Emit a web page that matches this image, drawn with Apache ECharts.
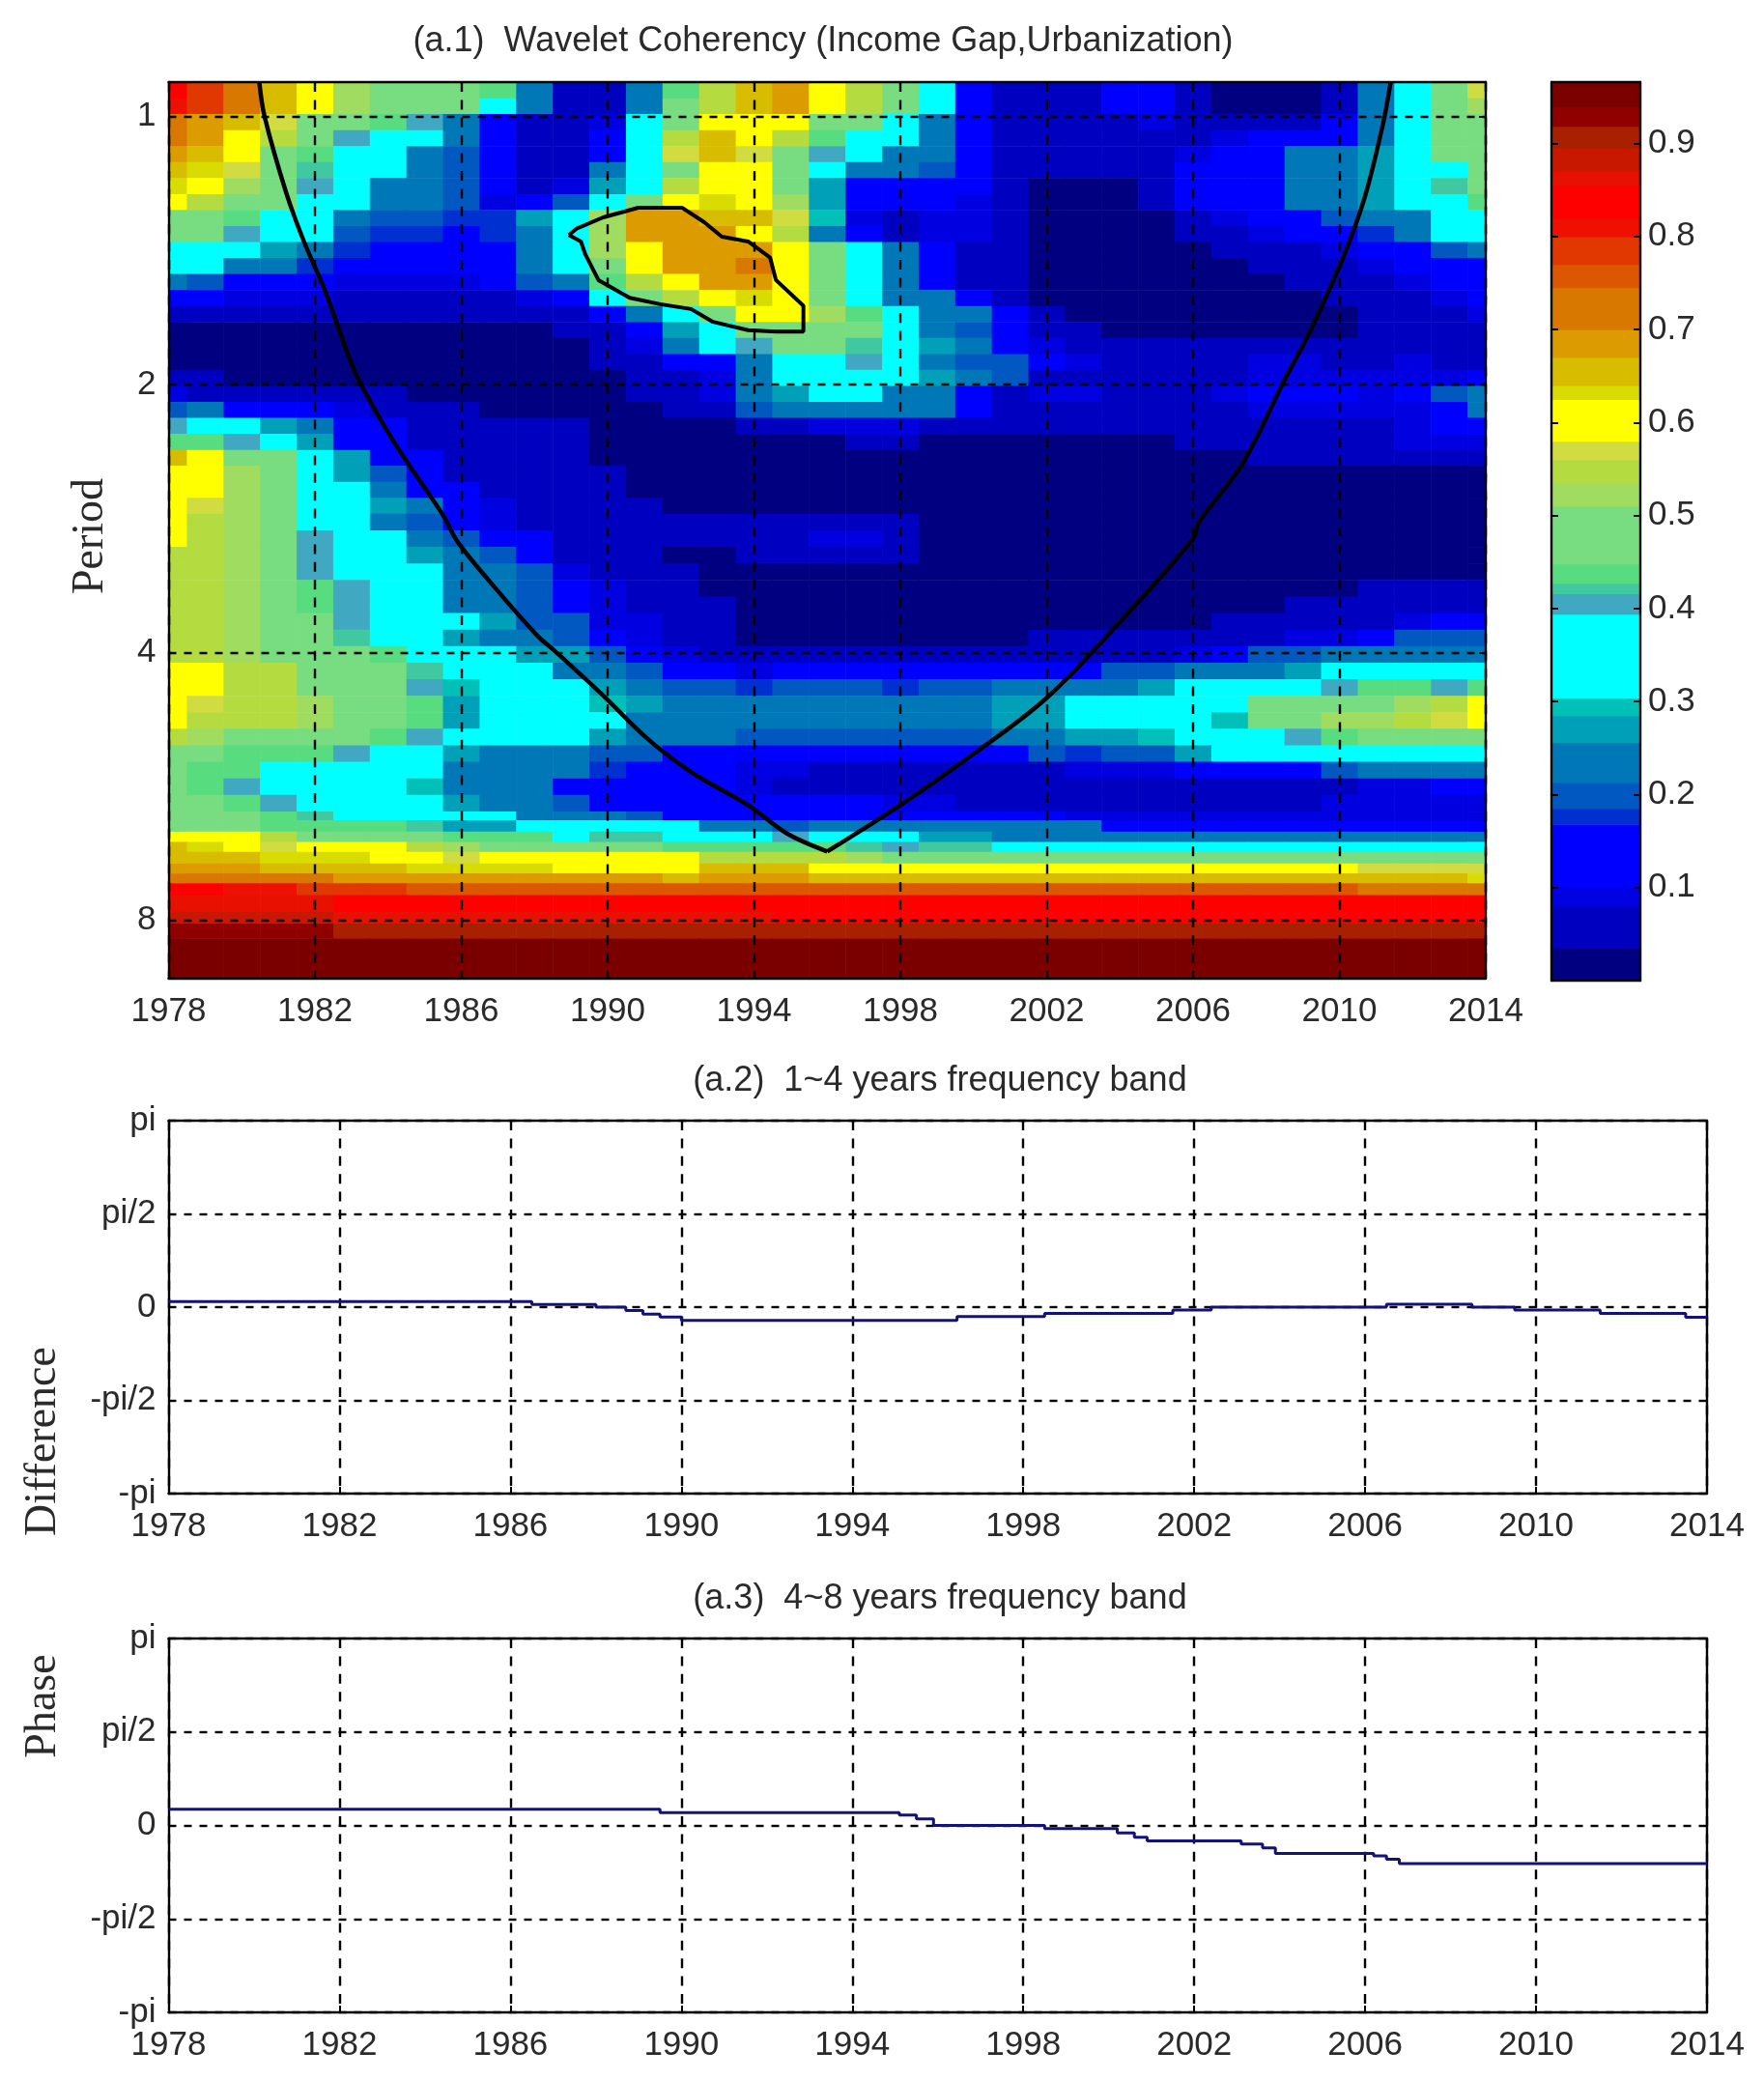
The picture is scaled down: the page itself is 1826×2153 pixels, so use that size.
<!DOCTYPE html>
<html>
<head>
<meta charset="utf-8">
<title>Wavelet Coherency</title>
<style>html,body{margin:0;padding:0;background:#fff}#chart{width:1826px;height:2153px}</style>
<script src="https://cdn.jsdelivr.net/npm/echarts@6/dist/echarts.min.js"></script>
</head>
<body>
<div id="chart"></div>
<script>
// ---------- tick labels ----------
const yearTicks = [1978, 1982, 1986, 1990, 1994, 1998, 2002, 2006, 2010, 2014];
const periodTicks = [1, 2, 4, 8];
const coherenceTicks = [0.1, 0.2, 0.3, 0.4, 0.5, 0.6, 0.7, 0.8, 0.9];
const phaseTicks = [-Math.PI, -Math.PI / 2, 0, Math.PI / 2, Math.PI];
const phaseTickLabels = ['-pi', '-pi/2', '0', 'pi/2', 'pi'];

// ---------- heat map categories ----------
const years = [1978,1979,1980,1981,1982,1983,1984,1985,1986,1987,1988,1989,1990,1991,1992,1993,1994,1995,1996,1997,1998,1999,2000,2001,2002,2003,2004,2005,2006,2007,2008,2009,2010,2011,2012,2013,2014];
// Row boundaries on the period scale, as log2(period), top to bottom
const log2PeriodEdges = [-0.129,-0.069,-0.010,0.050,0.110,0.169,0.229,0.289,0.348,0.408,0.468,0.527,0.587,0.647,0.707,0.766,0.826,0.886,0.945,1.005,1.065,1.124,1.184,1.244,1.303,1.363,1.423,1.482,1.544,1.606,1.668,1.729,1.791,1.853,1.915,1.976,2.038,2.100,2.162,2.223,2.285,2.347,2.408,2.470,2.532,2.594,2.626,2.669,2.707,2.744,2.788,2.825,2.862,2.906,2.968,3.012,3.067,3.217];

// Coherency in hundredths, one row per period band, one column per year
const coherencyRows = [
[84,79,72,66,60,53,50,48,46,44,24,5,5,22,44,54,66,68,60,56,48,36,15,6,5,8,12,12,5,3,3,3,4,24,35,46,58],
[82,79,72,66,60,52,50,47,46,38,22,5,6,22,46,54,66,68,60,56,50,37,16,6,5,8,13,12,5,3,3,3,4,24,35,46,52],
[74,69,65,57,50,46,44,40,24,12,8,5,10,34,46,62,60,60,50,46,38,24,15,6,5,6,8,10,6,5,6,8,11,24,34,46,48],
[72,68,60,54,46,40,36,35,22,12,8,6,12,34,54,66,60,54,44,35,35,22,15,6,4,5,6,8,8,10,13,13,15,24,34,46,47],
[70,66,60,50,44,37,35,24,21,12,8,8,14,35,58,66,58,50,40,35,24,23,15,5,4,4,4,6,10,13,13,22,22,26,34,46,47],
[66,64,57,50,42,36,34,22,20,12,8,8,22,35,50,60,60,48,36,24,22,20,14,5,4,4,4,5,12,14,14,23,23,26,34,36,47],
[64,60,52,48,40,36,24,22,19,11,8,10,26,34,56,62,60,46,28,14,13,13,12,5,3,3,3,5,12,15,15,22,23,27,34,42,46],
[60,56,50,46,38,36,24,22,19,10,14,20,33,46,60,64,62,52,26,13,11,12,10,5,3,3,3,4,11,14,14,22,23,27,34,36,44],
[50,48,44,36,36,22,20,20,17,18,26,33,52,68,69,66,66,58,30,10,8,10,10,5,3,3,2,3,6,10,12,14,20,22,22,36,38],
[47,46,40,35,34,20,18,18,16,17,25,35,52,69,69,68,62,56,24,12,8,9,9,5,3,3,2,3,4,8,10,12,13,18,22,36,38],
[38,37,36,26,24,18,15,15,15,15,25,35,52,60,69,70,70,60,48,36,22,12,8,5,3,2,2,2,3,5,6,8,10,14,15,19,25],
[36,35,24,22,18,13,12,12,12,14,24,35,48,60,69,70,72,60,48,35,22,12,8,5,3,2,2,2,2,3,4,6,8,10,12,14,15],
[22,20,15,12,12,10,10,10,10,12,20,25,44,56,60,70,70,62,48,34,22,14,8,5,3,2,2,2,2,2,3,4,6,8,10,12,13],
[14,13,10,9,9,6,6,6,6,8,10,14,36,46,54,62,64,60,50,34,24,22,14,8,3,2,2,2,2,2,2,3,4,6,8,10,12],
[8,7,6,5,4,4,4,4,4,4,5,8,13,24,34,46,60,60,52,44,34,24,22,12,6,3,2,2,2,2,2,2,3,4,6,8,9],
[3,3,3,3,3,3,3,3,3,3,3,4,6,11,27,36,46,50,50,46,34,22,20,12,8,5,3,2,2,2,2,3,3,4,5,5,6],
[2,2,2,2,2,2,2,2,2,2,2,3,5,10,24,35,40,46,50,42,36,28,22,12,9,6,5,5,5,5,5,6,6,6,6,7,7],
[2,2,2,2,2,2,2,2,2,2,2,3,4,8,13,14,24,34,36,40,36,24,20,20,14,10,8,8,8,8,9,9,8,8,9,8,8],
[5,5,3,3,3,2,2,2,2,2,2,2,3,5,8,10,24,34,34,35,36,28,22,19,8,8,7,8,8,8,9,9,9,9,10,10,12],
[9,8,6,6,5,5,4,3,3,2,2,2,3,4,7,9,23,26,36,36,24,22,15,8,9,9,7,8,8,10,11,12,12,10,13,19,22],
[20,22,12,12,12,10,8,6,4,3,2,2,2,3,4,7,20,22,24,24,22,22,12,8,6,6,5,5,6,8,9,9,9,9,10,15,22],
[40,37,36,28,22,13,12,8,6,6,5,4,3,3,3,3,5,8,9,10,9,8,6,5,5,5,5,5,5,6,6,6,7,8,9,12,13],
[44,44,40,37,26,14,13,8,6,6,5,4,3,3,3,3,3,3,3,4,4,3,3,3,3,3,3,3,4,5,6,6,7,8,9,9,9],
[65,60,50,46,35,26,16,13,6,6,5,5,3,3,3,2,2,2,2,2,2,2,2,2,2,2,2,2,2,3,4,5,6,6,7,7,7],
[60,60,52,47,36,26,20,14,8,6,5,5,4,3,3,2,2,2,2,2,2,2,2,2,2,2,2,2,2,2,2,3,3,3,3,3,3],
[60,60,52,46,36,36,22,15,12,8,6,5,4,3,3,2,2,2,2,2,2,2,2,2,2,2,2,2,2,2,2,2,2,2,2,2,2],
[60,58,52,46,38,36,27,22,15,10,6,5,4,4,3,2,2,2,2,2,2,2,2,2,2,2,2,2,2,2,2,2,2,2,2,2,2],
[60,55,52,50,36,35,25,20,14,10,6,5,5,5,5,6,8,8,8,8,6,3,2,2,2,2,2,2,2,2,2,2,2,2,2,2,2],
[60,54,52,50,41,35,36,25,20,15,12,6,5,4,4,5,7,8,9,9,7,3,2,2,2,2,2,2,2,2,2,2,2,2,2,2,2],
[56,54,52,50,41,35,36,27,22,19,15,8,6,5,3,3,5,7,6,6,6,2,2,2,2,2,2,2,2,2,2,2,2,2,2,2,2],
[56,54,52,50,40,38,36,35,24,22,19,10,8,6,5,3,2,3,3,3,3,2,2,2,2,2,2,2,2,2,2,2,2,2,2,2,2],
[56,54,52,50,44,40,36,35,24,22,20,12,9,7,6,3,2,2,2,2,2,2,2,2,2,2,2,2,2,2,2,2,3,4,4,5,6],
[55,54,52,50,44,40,36,35,22,22,20,13,10,8,6,4,2,2,2,2,2,2,2,2,2,2,2,2,2,2,2,4,5,6,7,8,8],
[55,54,52,50,46,40,36,35,34,26,21,19,10,9,7,5,3,2,2,2,2,2,2,2,2,2,2,2,2,5,6,7,8,8,9,13,14],
[55,54,52,50,46,42,36,36,28,24,22,19,12,10,8,5,3,3,3,3,3,3,3,3,5,5,5,5,6,7,8,9,10,12,19,19,20],
[56,55,52,50,46,46,44,36,36,36,28,26,20,12,10,8,6,8,7,7,7,7,7,7,7,7,8,8,9,12,19,19,22,24,24,24,25],
[60,60,54,54,48,46,46,42,36,36,36,25,24,20,14,12,10,13,12,12,11,12,14,14,13,14,19,20,22,24,24,26,34,35,36,36,36],
[60,60,56,55,50,46,46,40,30,36,36,36,26,22,20,19,18,19,20,19,18,20,20,22,23,24,25,27,34,36,36,36,40,44,44,40,44],
[60,58,56,55,52,48,46,44,26,36,36,36,30,26,24,24,22,22,24,24,23,24,24,26,28,36,36,36,36,34,46,46,48,50,52,56,60],
[60,56,54,54,52,47,46,44,26,36,36,36,36,24,24,24,22,22,24,24,23,24,24,26,27,36,36,36,36,30,46,48,52,53,55,58,60],
[56,52,50,50,50,46,44,40,36,36,36,34,26,22,22,22,19,20,20,20,20,21,21,22,24,26,28,30,36,36,36,40,44,46,48,50,50],
[46,46,44,44,44,40,36,36,28,25,24,23,20,19,15,14,13,15,12,11,12,12,12,15,19,18,20,21,26,34,36,36,36,35,36,36,36],
[46,44,44,38,35,36,36,36,24,22,22,22,18,15,13,12,10,9,8,8,8,8,8,8,8,9,9,10,12,13,14,15,20,22,24,24,25],
[46,44,40,36,35,36,36,30,24,23,22,15,14,13,12,11,10,8,6,7,8,8,8,7,7,7,7,7,7,7,8,8,8,9,10,11,11],
[46,46,44,40,36,36,36,35,28,24,23,20,15,14,13,13,12,14,13,12,9,9,8,8,8,8,8,8,8,8,8,8,9,9,9,10,10],
[46,46,46,44,42,38,36,36,36,36,24,23,22,19,15,13,12,12,13,13,13,13,12,12,12,10,9,9,9,9,9,9,9,10,10,10,10],
[48,48,46,44,44,44,44,42,27,28,36,36,36,36,36,24,24,20,22,24,24,24,22,22,22,22,15,14,13,13,13,13,13,13,13,13,13],
[60,60,60,56,50,48,46,46,44,44,44,36,42,42,36,35,36,40,36,36,36,26,26,24,24,24,24,24,24,24,24,24,24,24,24,24,24],
[65,64,60,58,60,60,60,56,52,50,48,46,46,46,44,44,44,44,44,42,41,42,42,36,36,36,36,36,36,36,36,36,36,36,36,36,36],
[67,66,66,64,64,63,62,60,58,60,60,60,60,60,60,56,54,54,54,52,50,48,48,48,48,46,46,46,46,46,46,46,46,46,46,46,46],
[69,68,68,67,66,66,65,64,64,63,63,62,62,62,62,65,65,65,62,62,60,60,60,60,60,60,60,60,60,60,60,60,60,57,57,57,57],
[74,74,72,72,72,70,70,70,69,68,68,68,68,68,67,68,68,68,67,67,66,66,66,66,66,66,66,66,66,66,66,66,66,65,65,65,64],
[83,83,82,82,80,78,78,77,76,75,75,75,75,75,75,75,75,75,75,75,75,75,75,75,75,75,75,75,75,75,75,75,75,74,74,72,72],
[86,86,86,86,86,83,83,83,83,83,83,83,83,83,83,83,83,83,83,83,83,83,83,83,83,83,83,83,83,83,83,83,83,83,83,83,83],
[88,88,88,88,88,87,87,87,87,86,86,86,86,86,86,86,86,85,85,85,85,85,85,85,85,85,85,85,85,85,85,85,85,85,85,85,85],
[92,92,92,92,92,91,91,91,91,91,91,91,91,91,91,91,91,91,91,91,91,91,91,91,91,91,91,91,91,91,91,91,91,91,91,91,91],
[95,95,95,95,95,95,95,95,95,95,95,95,95,95,95,95,95,95,95,95,95,95,95,95,95,95,95,95,95,95,95,95,95,95,95,95,95]
];

// Colour map: [upper coherency limit, colour]
const colorStops = [
[0.035,'#000080'],[0.08,'#0000c0'],[0.10,'#0000e0'],[0.168,'#0000ff'],[0.185,'#0030d0'],[0.213,'#0058c0'],[0.256,'#0078b8'],[0.285,'#00a0b8'],[0.304,'#00c0b8'],[0.394,'#00ffff'],[0.416,'#40a8c0'],[0.427,'#40c8a0'],[0.448,'#58dc80'],[0.51,'#78dc80'],[0.535,'#a0dc60'],[0.56,'#b4dc40'],[0.58,'#d0dc40'],[0.625,'#ffff00'],[0.64,'#d8dc00'],[0.67,'#d8bc00'],[0.70,'#dc9c00'],[0.745,'#d87800'],[0.77,'#dc5800'],[0.80,'#e03800'],[0.82,'#ee1000'],[0.855,'#ff0000'],[0.87,'#e81000'],[0.895,'#c81800'],[0.918,'#a82000'],[0.94,'#900000'],[0.966,'#7a0000']
];

// Cone of influence, two branches meeting at the cusp: [year, log2(period)]
const coneLeftBranch = [[1980.48,-0.129],[1980.62,-0.003],[1981.22,0.286],[1981.7,0.466],[1982.3,0.658],[1982.9,0.887],[1983.26,1.0],[1984.2,1.223],[1985.5,1.487],[1985.9,1.587],[1986.87,1.75],[1988.07,1.936],[1988.6,2.0],[1989.87,2.16],[1991.08,2.321],[1992.28,2.446],[1993.84,2.57],[1994.9,2.676],[1996.0,2.743]];
const coneRightBranch = [[1996.0,2.743],[1998,2.57],[1999.96,2.383],[2001.98,2.172],[2004,1.886],[2006,1.575],[2006.17,1.512],[2007.35,1.295],[2008.5,0.983],[2009.2,0.80],[2010.1,0.526],[2010.7,0.297],[2011.2,0.021],[2011.4,-0.129]];

// Significance contour: [year, log2(period)]
const significanceContour = [[1988.94,0.442],[1989.15,0.418],[1989.88,0.376],[1990.84,0.340],[1992.04,0.340],[1992.64,0.394],[1993.12,0.448],[1993.84,0.466],[1994.44,0.526],[1994.6,0.61],[1995.35,0.706],[1995.35,0.802],[1994.6,0.802],[1993.84,0.797],[1992.88,0.766],[1992.28,0.718],[1991.44,0.700],[1990.6,0.676],[1989.75,0.610],[1989.39,0.514],[1989.27,0.466],[1988.94,0.442]];

// Phase difference, 1~4 years band: [year, radians], stepped
const phaseBand1to4 = [[1978,0.093],[1986.5,0.044],[1988,0],[1988.7,-0.055],[1989.1,-0.12],[1989.5,-0.165],[1990,-0.225],[1996.45,-0.158],[1998.5,-0.104],[2001.5,-0.05],[2002.4,0],[2006.5,0.05],[2008.5,0],[2009.5,-0.05],[2011.5,-0.104],[2013.5,-0.17],[2014,-0.17]];
// Phase difference, 4~8 years band: [year, radians], stepped
const phaseBand4to8 = [[1978,0.27],[1989.5,0.216],[1995.1,0.173],[1995.5,0.108],[1995.9,0],[1998.5,-0.054],[2000.2,-0.124],[2000.6,-0.2],[2000.9,-0.26],[2003.1,-0.313],[2003.6,-0.378],[2003.9,-0.47],[2006.2,-0.513],[2006.5,-0.568],[2006.8,-0.643],[2014,-0.643]];

// ---------- build ----------
const FONT = 'Liberation Sans';
const LABEL = '#2a2a2a';
const colorFor = v => {
  for (const s of colorStops) if (v <= s[0]) return s[1];
  return colorStops[colorStops.length - 1][1];
};
const heatData = [];
coherencyRows.forEach((row, r) => row.forEach((val, c) => {
  heatData.push([Math.max(years[0], years[c] - 0.5), Math.min(years[years.length - 1], years[c] + 0.5), log2PeriodEdges[r], log2PeriodEdges[r + 1], val / 100]);
}));
const barData = colorStops.map((s, i) => [0, 1, i ? colorStops[i - 1][0] : 0, s[0], s[0]]);

const rectRender = (params, api) => {
  const a = api.coord([api.value(0), api.value(2)]);
  const b = api.coord([api.value(1), api.value(3)]);
  const x = Math.min(a[0], b[0]), y = Math.min(a[1], b[1]);
  return { type: 'rect', shape: { x, y, width: Math.abs(b[0] - a[0]) + 0.6, height: Math.abs(b[1] - a[1]) + 0.6 }, style: { fill: colorFor(api.value(4)) } };
};

const gridsPx = [
  { left: 174.5, top: 85, width: 1363.5, height: 927.8 },
  { left: 174.5, top: 1160, width: 1592.5, height: 386 },
  { left: 174.5, top: 1696, width: 1592.5, height: 387 },
  { left: 1606, top: 85, width: 92, height: 930 }
];
const dashVertical = { color: '#000', width: 2.4, type: [10, 8.4] };
const dashHorizontal = { color: '#000', width: 2.4, type: [8, 8] };
const boxLine = { show: true, onZero: false, lineStyle: { color: '#000', width: 2.4 } };
const label = (extra) => Object.assign({ color: LABEL, fontFamily: FONT, fontSize: 35 }, extra);

const xAxes = [], yAxes = [];
function xPair(gridIndex, cfg) {
  const base = { type: 'value', gridIndex, axisLine: boxLine, z: 3, min: cfg.min, max: cfg.max };
  const tick = cfg.ticks ? { show: true, inside: true, length: 7, customValues: cfg.ticks, lineStyle: { color: '#000', width: 2 } } : { show: false };
  xAxes.push(Object.assign({}, base, { position: 'bottom', axisTick: tick,
    axisLabel: cfg.ticks ? label({ customValues: cfg.ticks, margin: 17, hideOverlap: false, formatter: v => String(v) }) : { show: false },
    splitLine: cfg.ticks ? { show: true, lineStyle: dashVertical } : { show: false } }));
  xAxes.push(Object.assign({}, base, { position: 'top', axisTick: tick, axisLabel: { show: false }, splitLine: { show: false } }));
}
function yPair(gridIndex, cfg) {
  const base = { type: 'value', gridIndex, axisLine: boxLine, z: 3, min: cfg.min, max: cfg.max, inverse: !!cfg.inverse };
  const tick = { show: true, inside: true, length: 7, customValues: cfg.ticks, lineStyle: { color: '#000', width: 2 } };
  yAxes.push(Object.assign({}, base, { position: 'left', axisTick: tick,
    axisLabel: cfg.labelRight ? { show: false } : label({ customValues: cfg.ticks, margin: 13, formatter: cfg.format }),
    splitLine: cfg.grid ? { show: true, lineStyle: dashHorizontal } : { show: false } }));
  yAxes.push(Object.assign({}, base, { position: 'right', axisTick: tick,
    axisLabel: cfg.labelRight ? label({ customValues: cfg.ticks, margin: 8, formatter: cfg.format }) : { show: false },
    splitLine: { show: false } }));
}
xPair(0, { min: 1978, max: 2014, ticks: yearTicks });
yPair(0, { min: log2PeriodEdges[0], max: log2PeriodEdges[log2PeriodEdges.length - 1], inverse: true, grid: true, ticks: periodTicks.map(Math.log2), format: v => String(Math.round(Math.pow(2, v))) });
const phaseFormat = v => { const i = phaseTicks.findIndex(t => Math.abs(t - v) < 1e-6); return i < 0 ? '' : phaseTickLabels[i]; };
xPair(1, { min: 1978, max: 2014, ticks: yearTicks });
yPair(1, { min: -Math.PI, max: Math.PI, grid: true, ticks: phaseTicks, format: phaseFormat });
xPair(2, { min: 1978, max: 2014, ticks: yearTicks });
yPair(2, { min: -Math.PI, max: Math.PI, grid: true, ticks: phaseTicks, format: phaseFormat });
xPair(3, { min: 0, max: 1 });
yPair(3, { min: 0, max: 0.966, grid: false, labelRight: true, ticks: coherenceTicks, format: v => v.toFixed(1) });

const titleStyle = { color: LABEL, fontFamily: FONT, fontSize: 36, fontWeight: 'normal' };
const sideText = (text, x, y) => ({ type: 'text', x, y, rotation: Math.PI / 2, z: 10,
  style: { text, fill: '#2a2a2a', font: '46px "Liberation Serif"', textAlign: 'center', textVerticalAlign: 'middle' } });

const coneLine = (name, data) => ({ type: 'line', name, xAxisIndex: 0, yAxisIndex: 0, z: 4, data, smooth: 0.35, symbol: 'none', silent: true, lineStyle: { color: '#000', width: 4.5 } });

const option = {
  animation: false,
  backgroundColor: '#fff',
  grid: gridsPx.map(g => Object.assign({ containLabel: false, show: false }, g)),
  xAxis: xAxes,
  yAxis: yAxes,
  title: [
    { text: '(a.1)  Wavelet Coherency (Income Gap,Urbanization)', left: 847, top: 20, textAlign: 'center', textStyle: titleStyle },
    { text: '(a.2)  1~4 years frequency band', left: 968, top: 1096, textAlign: 'center', textStyle: titleStyle },
    { text: '(a.3)  4~8 years frequency band', left: 968, top: 1632, textAlign: 'center', textStyle: titleStyle }
  ],
  graphic: [sideText('Period', 94, 555), sideText('Difference', 45, 1492), sideText('Phase', 45, 1766)],
  series: [
    { type: 'custom', name: 'Coherency', xAxisIndex: 0, yAxisIndex: 0, z: 1, data: heatData, renderItem: rectRender, encode: { x: [0, 1], y: [2, 3] }, silent: true, progressive: 0 },
    coneLine('Cone of influence (left)', coneLeftBranch),
    coneLine('Cone of influence (right)', coneRightBranch),
    { type: 'line', name: 'Significance', xAxisIndex: 0, yAxisIndex: 0, z: 4, data: significanceContour, symbol: 'none', silent: true, lineStyle: { color: '#000', width: 4 } },
    { type: 'line', name: 'Phase 1~4', xAxisIndex: 2, yAxisIndex: 2, z: 4, data: phaseBand1to4, step: 'end', symbol: 'none', silent: true, lineStyle: { color: '#12127a', width: 3 } },
    { type: 'line', name: 'Phase 4~8', xAxisIndex: 4, yAxisIndex: 4, z: 4, data: phaseBand4to8, step: 'end', symbol: 'none', silent: true, lineStyle: { color: '#12127a', width: 3 } },
    { type: 'custom', name: 'Colour bar', xAxisIndex: 6, yAxisIndex: 6, z: 1, data: barData, renderItem: rectRender, encode: { x: [0, 1], y: [2, 3] }, silent: true }
  ]
};
const chart = echarts.init(document.getElementById('chart'), null, { renderer: 'canvas' });
chart.setOption(option);
</script>
</body>
</html>
